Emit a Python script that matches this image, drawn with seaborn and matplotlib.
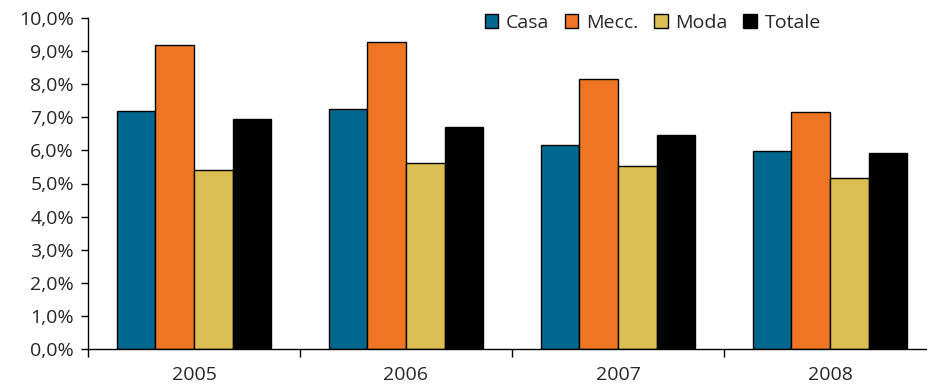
import pandas as pd
import matplotlib.pyplot as plt
import matplotlib.ticker as mticker
import seaborn as sns

# dati (valori in %)
anni = ['2005', '2006', '2007', '2008']
casa = [7.19, 7.24, 6.15, 5.98]
mecc = [9.19, 9.29, 8.15, 7.17]
moda = [5.41, 5.61, 5.54, 5.16]
totale = [6.96, 6.71, 6.46, 5.93]

settori = ['Casa', 'Mecc.', 'Moda', 'Totale']
colori = ['#00688F', '#F07522', '#DBBF52', '#000000']

df = pd.DataFrame({'anno': anni, 'Casa': casa, 'Mecc.': mecc, 'Moda': moda, 'Totale': totale})
df = df.melt(id_vars='anno', var_name='settore', value_name='valore')

sns.set_style('white')
plt.rcParams['font.family'] = ['Open Sans', 'DejaVu Sans']

fig = plt.figure(figsize=(9.28, 3.87), dpi=100)
ax = fig.add_axes([88 / 928, 38 / 387, 848 / 928, 331 / 387])

sns.barplot(data=df, x='anno', y='valore', hue='settore', hue_order=settori,
            palette=colori, width=0.727, gap=0, edgecolor='black', linewidth=1,
            saturation=1, ax=ax)

ax.set_xlim(-0.5, 3.5)
ax.set_ylim(0, 10)
ax.yaxis.set_major_locator(mticker.MultipleLocator(1))
ax.yaxis.set_major_formatter(mticker.FuncFormatter(lambda v, p: f'{v:.1f}%'.replace('.', ',')))
ax.set_xlabel('')
ax.set_ylabel('')

for s in ['top', 'right']:
    ax.spines[s].set_visible(False)
for s in ['left', 'bottom']:
    ax.spines[s].set_color('black')
    ax.spines[s].set_linewidth(1)

ax.tick_params(axis='y', which='major', left=True, length=5, width=1, color='black',
               labelsize=14, pad=5)
ax.tick_params(axis='x', which='major', bottom=False, labelsize=14, pad=9)
ax.set_xticks([-0.5, 0.5, 1.5, 2.5, 3.5], minor=True)
ax.tick_params(axis='x', which='minor', bottom=True, length=6, width=1, color='black')

ax.legend(loc='upper right', bbox_to_anchor=(0.885, 1.065), ncol=4, frameon=False,
          fontsize=14, handlelength=0.7, handleheight=0.7, handletextpad=0.4,
          columnspacing=0.8)

fig.savefig('out.png', dpi=100)
